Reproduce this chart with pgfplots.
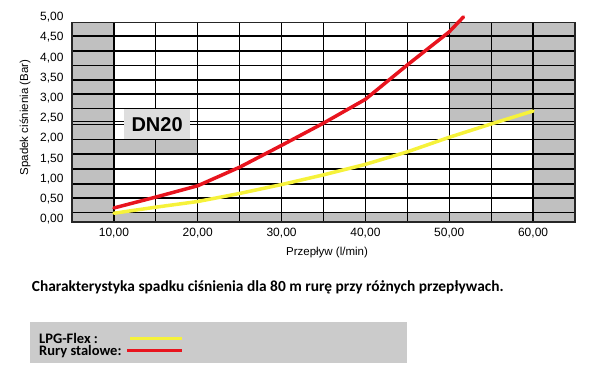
\documentclass[border=0pt]{standalone}
\usepackage{pgfplots}
\pgfplotsset{compat=1.18}
\usepackage{fontspec}
\setmainfont{Liberation Sans}
\newfontfamily\calfont{Carlito}
\definecolor{shade}{HTML}{C0C0C0}
\definecolor{boxgray}{HTML}{DEDEDE}
\definecolor{leggray}{HTML}{CBCBCB}
\definecolor{redline}{HTML}{E8141E}
\definecolor{yelline}{HTML}{F6F23A}
\newcommand\tf{\fontsize{12bp}{14bp}\selectfont}
\newcommand\lf{\fontsize{11.5bp}{14bp}\selectfont}
\begin{document}
\begin{tikzpicture}
\path (0,0) rectangle (600bp,376bp);
\begin{axis}[
  at={(72bp,154bp)}, anchor=south west,
  scale only axis, width=503bp, height=199.3bp,
  xmin=5, xmax=65, ymin=-0.067, ymax=4.866,
  clip=false,
  set layers,
  axis line style={black!85, line width=1.2bp},
  major tick length=0pt, minor tick length=0pt,
  xtick={10,20,30,40,50,60},
  xticklabels={{10,00},{20,00},{30,00},{40,00},{50,00},{60,00}},
  minor xtick={15,25,35,45,55},
  xmajorgrids, xminorgrids, ymajorgrids,
  ytick={0.168,0.527,0.874,1.245,1.616,1.980,2.347,2.421,2.743,3.101,3.448,3.802,4.166,4.537},
  yticklabels={},
  extra y ticks={0,0.5,1,1.5,2,2.5,3,3.5,4,4.5},
  extra y tick labels={{0,00},{0,50},{1,00},{1,50},{2,00},{2,50},{3,00},{3,50},{4,00},{4,50}},
  extra y tick style={ymajorgrids=false, major tick length=0pt, yticklabel style={xshift=-5bp}},
  grid style={black, line width=1.2bp},
  major grid style={black, line width=1.2bp},
  minor grid style={black, line width=1.2bp},
  ticklabel style={font=\tf},
  xticklabel style={yshift=-3bp},
  xlabel={Przepływ (l/min)},
  ylabel={Spadek ciśnienia (Bar)},
  label style={font=\lf},
  xlabel style={at={(axis description cs:0.507,-0.154)}, anchor=center},
  ylabel style={at={(axis description cs:-0.0934,0.524)}, anchor=center, rotate=0},
]
\addplot[draw=none, fill=shade, on layer=axis background, forget plot] coordinates {(5,-0.067) (10,-0.067) (10,4.866) (5,4.866)} -- cycle;
\addplot[draw=none, fill=shade, on layer=axis background, forget plot] coordinates {(5,-0.067) (65,-0.067) (65,0.168) (5,0.168)} -- cycle;
\addplot[draw=none, fill=shade, on layer=axis background, forget plot] coordinates {(10,1.616) (20,1.616) (20,1.980) (10,1.980)} -- cycle;
\addplot[draw=none, fill=shade, on layer=axis background, forget plot] coordinates {(50,2.421) (65,2.421) (65,4.866) (50,4.866)} -- cycle;
\addplot[draw=none, fill=shade, on layer=axis background, forget plot] coordinates {(60,-0.067) (65,-0.067) (65,4.866) (60,4.866)} -- cycle;
\addplot[yelline, line width=3.5bp, line join=round, line cap=round] coordinates {
 (10,0.15) (15,0.30) (20,0.44) (25,0.64) (30,0.86) (35,1.10) (40,1.36) (45,1.67) (50,2.03) (55,2.36) (60,2.68)};
\addplot[redline, line width=3.5bp, line join=round, line cap=round] coordinates {
 (10,0.28) (15,0.55) (20,0.83) (25,1.29) (30,1.83) (35,2.38) (40,2.97) (45,3.82) (50,4.64) (51.7,5.01)};
\node[fill=boxgray, minimum width=66bp, minimum height=29.7bp, inner sep=0pt, anchor=center,
  font=\fontsize{20bp}{24bp}\selectfont\bfseries] at (axis cs:15.15,2.355) {DN20};
\node[anchor=east, xshift=-5bp, font=\tf] at (axis cs:5,5) {5,00};
\end{axis}
\node[anchor=west, font=\calfont\bfseries\fontsize{15.4bp}{18bp}\selectfont, inner sep=0pt] at (31.7bp,88.7bp)
  {Charakterystyka spadku ciśnienia dla 80 m rurę przy różnych przepływach.};
\fill[leggray] (30bp,12.7bp) rectangle (407bp,53.7bp);
\node[anchor=base west, font=\calfont\bfseries\fontsize{14.5bp}{17bp}\selectfont, inner sep=0pt] at (39bp,32.3bp) {LPG-Flex :};
\node[anchor=base west, font=\calfont\bfseries\fontsize{14.5bp}{17bp}\selectfont, inner sep=0pt] at (39bp,20.4bp) {Rury stalowe:};
\draw[yelline, line width=3bp] (130bp,37bp) -- (181.7bp,37bp);
\draw[redline, line width=3bp] (127bp,25bp) -- (181.7bp,25bp);
\end{tikzpicture}
\end{document}
